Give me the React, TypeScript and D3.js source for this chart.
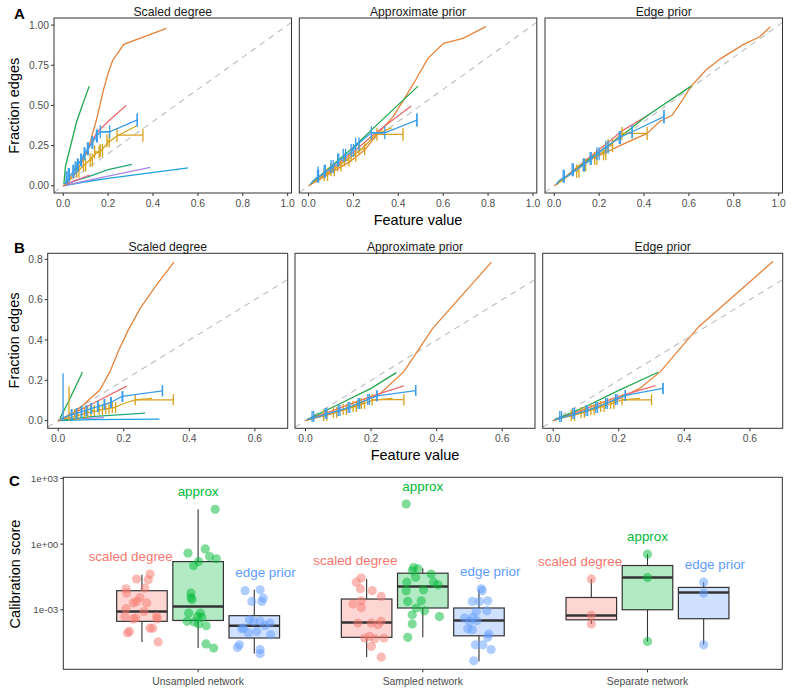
import React from "react";
import * as d3 from "d3";

const FONT = "'Liberation Sans', Arial, Helvetica, sans-serif";

// ---------- colours ----------
const NET_COLORS: Record<string, string> = {
  orange: "#E5833A",
  red: "#EE6A6F",
  pink: "#EC609A",
  green: "#22A84C",
  teal: "#22AA72",
  purple: "#A985E6",
  cyan: "#1BA3DC",
  blue: "#3C9DEB",
  gold: "#D8A21C",
};

// ---------- panel A / B data (x = feature value, y = fraction edges) ----------
// pts: line vertices [x, y]; errs: horizontal error bars [y, xmin, xmax]; spikes: [x, ymin, ymax]
type Series = { net: string; pts: number[][]; errs?: number[][]; spikes?: number[][] };

const facetTitles = ["Scaled degree", "Approximate prior", "Edge prior"];

const A_scaled: Series[] = [
  { net: "cyan", pts: [[0, 0], [0.1, 0.025], [0.2, 0.046], [0.556, 0.112]] },
  { net: "purple", pts: [[0, 0], [0.1, 0.03], [0.2, 0.06], [0.388, 0.114]] },
  { net: "teal", pts: [[0, 0], [0.05, 0.03], [0.11, 0.055], [0.2, 0.1], [0.307, 0.133]] },
  { net: "pink", pts: [[0, 0], [0.05, 0.03], [0.119, 0.067]] },
  { net: "red", pts: [[0.01, 0.01], [0.05, 0.1], [0.1, 0.2], [0.15, 0.33], [0.2, 0.4], [0.28, 0.5]] },
  { net: "green", pts: [[0.003, 0.01], [0.01, 0.12], [0.035, 0.26], [0.06, 0.4], [0.085, 0.5], [0.116, 0.62]] },
  { net: "orange", pts: [[0, 0], [0.02, 0.02], [0.05, 0.07], [0.08, 0.14], [0.11, 0.22], [0.15, 0.42], [0.18, 0.6], [0.2, 0.7], [0.22, 0.78], [0.27, 0.88], [0.46, 0.98]] },
  {
    net: "gold",
    pts: [[0.005, 0.005], [0.02, 0.03], [0.035, 0.05], [0.05, 0.07], [0.065, 0.09], [0.08, 0.11], [0.095, 0.13], [0.11, 0.15], [0.125, 0.17], [0.145, 0.2], [0.17, 0.22], [0.2, 0.27], [0.24, 0.31], [0.33, 0.375]],
    errs: [[0.09, 0.06, 0.07], [0.13, 0.09, 0.1], [0.16, 0.12, 0.13], [0.21, 0.14, 0.16], [0.22, 0.165, 0.175], [0.28, 0.195, 0.205], [0.315, 0.24, 0.355]],
  },
  {
    net: "blue",
    pts: [[0.005, 0.01], [0.015, 0.03], [0.025, 0.05], [0.035, 0.07], [0.045, 0.09], [0.055, 0.11], [0.065, 0.13], [0.08, 0.16], [0.095, 0.2], [0.11, 0.23], [0.13, 0.27], [0.15, 0.31], [0.165, 0.336], [0.207, 0.336], [0.33, 0.41]],
    errs: [[0.05, 0.013, 0.017], [0.07, 0.023, 0.027], [0.09, 0.043, 0.047], [0.11, 0.053, 0.057], [0.13, 0.063, 0.067], [0.16, 0.078, 0.082], [0.2, 0.093, 0.097], [0.23, 0.108, 0.112], [0.27, 0.128, 0.132], [0.31, 0.148, 0.152], [0.336, 0.165, 0.207], [0.41, 0.33, 0.33]],
    spikes: [[0.025, 0.02, 0.11]],
  },
];

const A_approx: Series[] = [
  { net: "orange", pts: [[0, 0], [0.05, 0.04], [0.095, 0.077], [0.184, 0.15], [0.25, 0.222], [0.31, 0.326], [0.377, 0.43], [0.428, 0.544], [0.477, 0.658], [0.532, 0.793], [0.602, 0.886], [0.688, 0.917], [0.79, 0.99]] },
  { net: "red", pts: [[0.01, 0.01], [0.1, 0.1], [0.2, 0.21], [0.3, 0.33], [0.458, 0.496]] },
  { net: "green", pts: [[0.01, 0.012], [0.1, 0.12], [0.2, 0.24], [0.288, 0.357], [0.488, 0.62]] },
  {
    net: "gold",
    pts: [[0.01, 0.01], [0.03, 0.03], [0.05, 0.05], [0.08, 0.07], [0.11, 0.1], [0.14, 0.13], [0.17, 0.16], [0.2, 0.19], [0.24, 0.23], [0.3, 0.32], [0.37, 0.36]],
    errs: [[0.07, 0.07, 0.085], [0.1, 0.1, 0.115], [0.13, 0.13, 0.145], [0.16, 0.16, 0.18], [0.19, 0.19, 0.21], [0.23, 0.225, 0.25], [0.32, 0.305, 0.421]],
  },
  {
    net: "blue",
    pts: [[0.01, 0.01], [0.02, 0.03], [0.035, 0.05], [0.05, 0.06], [0.07, 0.08], [0.09, 0.1], [0.11, 0.12], [0.13, 0.15], [0.16, 0.18], [0.19, 0.21], [0.22, 0.26], [0.28, 0.33], [0.34, 0.33], [0.483, 0.409]],
    errs: [[0.06, 0.04, 0.045], [0.09, 0.07, 0.075], [0.12, 0.1, 0.11], [0.16, 0.13, 0.135], [0.19, 0.155, 0.165], [0.22, 0.19, 0.2], [0.26, 0.21, 0.225], [0.33, 0.28, 0.34], [0.409, 0.483, 0.483]],
    spikes: [[0.043, 0.05, 0.12]],
  },
];

const A_edge: Series[] = [
  { net: "orange", pts: [[0, 0], [0.05, 0.05], [0.152, 0.156], [0.3, 0.255], [0.414, 0.326], [0.47, 0.4], [0.526, 0.44], [0.571, 0.533], [0.608, 0.616], [0.676, 0.72], [0.743, 0.793], [0.84, 0.877], [0.915, 0.927], [0.963, 0.99]] },
  { net: "red", pts: [[0.01, 0.01], [0.15, 0.17], [0.25, 0.28], [0.3, 0.34], [0.42, 0.44]] },
  { net: "green", pts: [[0.01, 0.01], [0.15, 0.16], [0.3, 0.31], [0.407, 0.43], [0.61, 0.62]] },
  {
    net: "gold",
    pts: [[0.01, 0.01], [0.03, 0.03], [0.06, 0.06], [0.09, 0.09], [0.12, 0.12], [0.15, 0.15], [0.18, 0.18], [0.22, 0.21], [0.26, 0.27], [0.3, 0.326]],
    errs: [[0.09, 0.1, 0.11], [0.13, 0.13, 0.14], [0.17, 0.18, 0.19], [0.2, 0.22, 0.23], [0.25, 0.24, 0.26], [0.326, 0.302, 0.414]],
  },
  {
    net: "blue",
    pts: [[0.01, 0.01], [0.02, 0.03], [0.04, 0.05], [0.06, 0.06], [0.08, 0.08], [0.1, 0.1], [0.13, 0.13], [0.16, 0.16], [0.19, 0.2], [0.23, 0.24], [0.29, 0.3], [0.347, 0.336], [0.489, 0.43]],
    errs: [[0.06, 0.04, 0.045], [0.1, 0.08, 0.085], [0.13, 0.13, 0.135], [0.17, 0.16, 0.165], [0.2, 0.19, 0.2], [0.24, 0.23, 0.24], [0.3, 0.29, 0.295], [0.336, 0.347, 0.347], [0.43, 0.489, 0.489]],
  },
];

const B_scaled: Series[] = [
  { net: "purple", pts: [[0, 0], [0.08, 0.01], [0.14, 0.015]] },
  { net: "cyan", pts: [[0, 0], [0.1, 0.005], [0.309, 0.008]] },
  { net: "teal", pts: [[0, 0], [0.1, 0.02], [0.265, 0.037]] },
  { net: "red", pts: [[0, 0], [0.1, 0.08], [0.209, 0.171]] },
  { net: "green", pts: [[0.005, 0.01], [0.03, 0.09], [0.074, 0.24]] },
  { net: "orange", pts: [[0, 0], [0.04, 0.03], [0.076, 0.078], [0.127, 0.152], [0.158, 0.243], [0.185, 0.35], [0.214, 0.45], [0.25, 0.557], [0.3, 0.673], [0.353, 0.786]] },
  {
    net: "gold",
    pts: [[0.005, 0.005], [0.02, 0.01], [0.035, 0.015], [0.05, 0.02], [0.07, 0.03], [0.09, 0.04], [0.11, 0.045], [0.13, 0.055], [0.15, 0.06], [0.17, 0.065], [0.2, 0.085], [0.235, 0.103], [0.286, 0.11]],
    errs: [[0.03, 0.05, 0.06], [0.04, 0.08, 0.09], [0.05, 0.1, 0.11], [0.055, 0.125, 0.135], [0.06, 0.145, 0.155], [0.065, 0.165, 0.175], [0.103, 0.235, 0.351]],
    spikes: [[0.033, 0.0, 0.17]],
  },
  {
    net: "blue",
    pts: [[0.005, 0.005], [0.015, 0.015], [0.025, 0.02], [0.04, 0.03], [0.055, 0.035], [0.07, 0.045], [0.085, 0.05], [0.1, 0.06], [0.12, 0.07], [0.14, 0.08], [0.16, 0.09], [0.195, 0.12], [0.318, 0.148]],
    errs: [[0.03, 0.04, 0.042], [0.035, 0.055, 0.057], [0.045, 0.07, 0.072], [0.05, 0.085, 0.087], [0.06, 0.1, 0.102], [0.07, 0.12, 0.122], [0.08, 0.14, 0.142], [0.09, 0.16, 0.162], [0.12, 0.195, 0.197], [0.148, 0.318, 0.318]],
    spikes: [[0.015, 0.0, 0.235]],
  },
];

const B_approx: Series[] = [
  { net: "orange", pts: [[0, 0], [0.08, 0.035], [0.157, 0.078], [0.229, 0.136], [0.3, 0.243], [0.388, 0.458], [0.567, 0.786]] },
  { net: "red", pts: [[0.005, 0.005], [0.1, 0.06], [0.2, 0.12], [0.3, 0.172]] },
  { net: "green", pts: [[0.005, 0.005], [0.1, 0.08], [0.2, 0.16], [0.277, 0.238]] },
  {
    net: "gold",
    pts: [[0.005, 0.003], [0.03, 0.015], [0.06, 0.025], [0.09, 0.04], [0.12, 0.055], [0.15, 0.07], [0.18, 0.085], [0.203, 0.1], [0.265, 0.11]],
    errs: [[0.025, 0.055, 0.065], [0.04, 0.085, 0.095], [0.055, 0.115, 0.125], [0.07, 0.145, 0.155], [0.085, 0.17, 0.18], [0.104, 0.203, 0.3]],
  },
  {
    net: "blue",
    pts: [[0.005, 0.005], [0.02, 0.012], [0.04, 0.02], [0.06, 0.03], [0.08, 0.04], [0.1, 0.05], [0.13, 0.065], [0.16, 0.085], [0.19, 0.105], [0.218, 0.123], [0.336, 0.149]],
    errs: [[0.02, 0.02, 0.025], [0.035, 0.06, 0.065], [0.05, 0.1, 0.105], [0.065, 0.13, 0.135], [0.085, 0.16, 0.165], [0.105, 0.19, 0.195], [0.123, 0.218, 0.218], [0.149, 0.336, 0.336]],
  },
];

const B_edge: Series[] = [
  { net: "orange", pts: [[0, 0], [0.1, 0.05], [0.194, 0.103], [0.264, 0.16], [0.327, 0.243], [0.444, 0.466], [0.67, 0.789]] },
  { net: "red", pts: [[0.005, 0.005], [0.1, 0.06], [0.2, 0.12], [0.312, 0.174]] },
  { net: "green", pts: [[0.005, 0.005], [0.1, 0.07], [0.2, 0.15], [0.32, 0.24]] },
  {
    net: "gold",
    pts: [[0.005, 0.003], [0.03, 0.015], [0.06, 0.025], [0.09, 0.04], [0.12, 0.055], [0.15, 0.07], [0.18, 0.085], [0.21, 0.103], [0.265, 0.11]],
    errs: [[0.025, 0.055, 0.065], [0.04, 0.085, 0.095], [0.055, 0.115, 0.125], [0.07, 0.145, 0.155], [0.085, 0.175, 0.185], [0.103, 0.21, 0.3]],
  },
  {
    net: "blue",
    pts: [[0.005, 0.005], [0.02, 0.012], [0.04, 0.02], [0.06, 0.03], [0.08, 0.04], [0.1, 0.05], [0.13, 0.065], [0.16, 0.085], [0.19, 0.105], [0.22, 0.125], [0.335, 0.16]],
    errs: [[0.02, 0.02, 0.025], [0.035, 0.06, 0.065], [0.05, 0.1, 0.105], [0.065, 0.13, 0.135], [0.085, 0.16, 0.165], [0.105, 0.19, 0.195], [0.125, 0.22, 0.22], [0.16, 0.335, 0.335]],
  },
];

const A_xTicks = [0, 0.2, 0.4, 0.6, 0.8, 1.0];
const A_yTicks = [0, 0.25, 0.5, 0.75, 1.0];
const B_xTicks = [0, 0.2, 0.4, 0.6];
const B_yTicks = [0, 0.2, 0.4, 0.6, 0.8];

// ---------- panel C data (log10 calibration score) ----------
const networks = ["Unsampled network", "Sampled network", "Separate network"];
const methods = ["scaled degree", "approx", "edge prior"];
const methodColors = ["#F8766D", "#00BA38", "#619CFF"];
const labelNudge = [-0.05, 0, 0.05];
const cTickExps = [3, 0, -3];
const cTickLabels = ["1e+03", "1e+00", "1e-03"];

// box stats per network: [lower whisker, q1, median, q3, upper whisker] (log10)
const scaledBox = [[-4.47, -3.53, -3.08, -2.13, -1.40], [-5.16, -4.26, -3.58, -2.51, -1.59], [-3.65, -3.46, -3.26, -2.44, -1.59]];
const approxBox = [[-4.75, -3.49, -2.85, -0.80, 1.59], [-4.26, -2.92, -1.94, -1.33, -1.10], [-4.45, -3.0, -1.53, -0.98, -0.46]];
const edgeBox = [[-5.0, -4.29, -3.73, -3.27, -2.09], [-5.36, -4.19, -3.49, -2.92, -2.09], [-4.6, -3.41, -2.21, -1.98, -1.74]];

// jittered points per network: [jitter (category units), log10 score]
const scaledPts = [
  [[0.036, -1.37], [-0.024, -1.6], [0.028, -1.63], [-0.071, -2.04], [0.013, -2.01], [-0.068, -2.24], [-0.009, -2.44], [-0.024, -2.62], [-0.039, -2.69], [0.021, -2.69], [-0.071, -2.95], [0.009, -3.08], [-0.076, -3.31], [-0.027, -3.38], [-0.039, -3.42], [0.065, -3.31], [0.068, -3.42], [0.048, -3.84], [0.036, -3.84], [-0.056, -3.99], [-0.064, -4.06], [0.072, -4.47]],
  [[-0.024, -1.55], [-0.046, -1.74], [-0.028, -2.04], [0.025, -2.13], [0.065, -2.39], [-0.024, -2.59], [-0.061, -2.74], [-0.024, -2.9], [-0.039, -3.61], [0.021, -3.61], [0.065, -3.53], [0.05, -3.68], [0.013, -4.22], [0.036, -4.32], [0.077, -4.29], [0.021, -4.67], [0.065, -5.16], [-0.009, -4.29]],
  [[0, -1.59], [0, -3.26], [0, -3.65]],
];
const approxPts = [
  [[0.076, 1.59], [0.032, -0.22], [-0.045, -0.41], [0.051, -0.57], [0.081, -0.67], [0.002, -0.8], [-0.02, -0.98], [-0.032, -2.24], [-0.032, -2.44], [-0.027, -2.54], [-0.042, -3.15], [0.01, -3.15], [-0.002, -3.31], [0.017, -3.35], [-0.017, -3.56], [0.002, -3.65], [0.036, -3.73], [0.035, -4.56], [0.069, -4.75], [-0.049, -3.53]],
  [[-0.074, 1.83], [-0.041, -1.07], [-0.022, -1.13], [-0.047, -1.22], [0.037, -1.37], [-0.071, -1.74], [0.048, -1.74], [0.003, -2.09], [-0.074, -2.13], [0.067, -1.86], [-0.067, -2.62], [-0.007, -2.59], [-0.029, -2.92], [0.008, -3.05], [-0.047, -3.23], [0.074, -3.31], [-0.047, -3.65], [-0.067, -4.26], [-0.032, -1.52]],
  [[0, -0.46], [0, -1.53], [0, -4.45]],
];
const edgePts = [
  [[-0.041, -2.13], [0.026, -2.09], [-0.011, -2.62], [0.04, -2.47], [0.033, -2.62], [-0.022, -3.46], [-0.004, -3.53], [0.026, -3.53], [0.07, -3.61], [0.048, -3.72], [-0.048, -3.84], [0.011, -3.99], [0.073, -4.14], [-0.056, -3.87], [-0.066, -4.6], [-0.075, -4.72], [0.026, -4.82], [0.026, -5.0], [-0.026, -4.06]],
  [[0.01, -2.04], [0.014, -2.13], [-0.03, -2.62], [0.002, -2.62], [0.039, -2.59], [-0.012, -3.08], [0.035, -3.05], [-0.064, -3.38], [-0.028, -3.35], [-0.042, -3.53], [-0.01, -3.5], [-0.05, -3.87], [-0.03, -3.91], [0.044, -4.11], [0.039, -4.26], [-0.016, -4.6], [0.017, -4.6], [0.054, -4.82], [-0.023, -5.33]],
  [[0, -1.74], [0, -2.24], [0, -4.6]],
];

// ---------- components ----------
type RowCfg = {
  top: number; h: number; lefts: number[]; w: number;
  xDom: number[]; yDom: number[]; xTicks: number[]; yTicks: number[]; yFmt: string; cap: number;
};

function LinePanel({ cfg, idx, series, id }: { cfg: RowCfg; idx: number; series: Series[]; id: string }) {
  const x0 = cfg.lefts[idx];
  const xs = d3.scaleLinear().domain(cfg.xDom).range([x0, x0 + cfg.w]);
  const ys = d3.scaleLinear().domain(cfg.yDom).range([cfg.top + cfg.h, cfg.top]);
  const line = d3.line<number[]>().x((d) => xs(d[0])).y((d) => ys(d[1]));
  const lo = Math.max(cfg.xDom[0], cfg.yDom[0]);
  const hi = Math.min(cfg.xDom[1], cfg.yDom[1]);
  const fmtX = d3.format(".1f");
  const fmtY = d3.format(cfg.yFmt);
  const bottom = cfg.top + cfg.h;
  return (
    <g>
      <clipPath id={id}>
        <rect x={x0} y={cfg.top} width={cfg.w} height={cfg.h} />
      </clipPath>
      <g clipPath={`url(#${id})`}>
        <line x1={xs(lo)} y1={ys(lo)} x2={xs(hi)} y2={ys(hi)} stroke="#BDBDBD" strokeWidth={1.1} strokeDasharray="6,5" />
        {series.map((s, i) => {
          const c = NET_COLORS[s.net];
          return (
            <g key={i}>
              <path d={line(s.pts) || ""} fill="none" stroke={c} strokeWidth={1.3} />
              {(s.errs || []).map((e, j) => {
                const y = ys(e[0]);
                const a = xs(e[1]);
                const b = xs(e[2]);
                const hh = cfg.cap / 2;
                return (
                  <g key={j} stroke={c} strokeWidth={1.3}>
                    <line x1={a} y1={y} x2={b} y2={y} />
                    <line x1={a} y1={y - hh} x2={a} y2={y + hh} />
                    <line x1={b} y1={y - hh} x2={b} y2={y + hh} />
                  </g>
                );
              })}
              {(s.spikes || []).map((sp, j) => (
                <line key={"s" + j} x1={xs(sp[0])} x2={xs(sp[0])} y1={ys(sp[1])} y2={ys(sp[2])} stroke={c} strokeWidth={1.3} />
              ))}
            </g>
          );
        })}
      </g>
      <rect x={x0} y={cfg.top} width={cfg.w} height={cfg.h} fill="none" stroke="#333" strokeWidth={1} />
      <text x={x0 + cfg.w / 2} y={cfg.top - 2.3} textAnchor="middle" fontSize={12.2} fill="#1A1A1A">
        {facetTitles[idx]}
      </text>
      {cfg.xTicks.map((t) => (
        <g key={t}>
          <line x1={xs(t)} x2={xs(t)} y1={bottom} y2={bottom + 3} stroke="#333" strokeWidth={1} />
          <text x={xs(t)} y={bottom + 13.5} textAnchor="middle" fontSize={10.3} fill="#4D4D4D">
            {fmtX(t)}
          </text>
        </g>
      ))}
      {idx === 0 &&
        cfg.yTicks.map((t) => (
          <g key={"y" + t}>
            <line x1={x0 - 3} x2={x0} y1={ys(t)} y2={ys(t)} stroke="#333" strokeWidth={1} />
            <text x={x0 - 5} y={ys(t)} dy="0.35em" textAnchor="end" fontSize={10.3} fill="#4D4D4D">
              {fmtY(t)}
            </text>
          </g>
        ))}
    </g>
  );
}

function PanelC() {
  const left = 63.3, right = 782.3, top = 477.3, bottom = 669.3;
  const xs = d3.scaleLinear().domain([0.4, 3.6]).range([left, right]);
  const ys = d3.scaleLinear().domain([-5.72, 3.05]).range([bottom, top]);
  const boxes = [scaledBox, approxBox, edgeBox];
  const pts = [scaledPts, approxPts, edgePts];
  const dodge = 0.25;
  const halfW = 0.1125;
  const unit = xs(1) - xs(0);
  return (
    <g>
      <rect x={left} y={top} width={right - left} height={bottom - top} fill="none" stroke="#333" strokeWidth={1} />
      {networks.map((net, i) => (
        <g key={net}>
          {methods.map((m, j) => {
            const cx = xs(i + 1 + (j - 1) * dodge);
            const b = boxes[j][i];
            const col = methodColors[j];
            const maxV = d3.max(pts[j][i], (p) => p[1]) as number;
            return (
              <g key={m}>
                <line x1={cx} x2={cx} y1={ys(b[4])} y2={ys(b[3])} stroke="#333" strokeWidth={1.1} />
                <line x1={cx} x2={cx} y1={ys(b[1])} y2={ys(b[0])} stroke="#333" strokeWidth={1.1} />
                <rect x={cx - halfW * unit} width={2 * halfW * unit} y={ys(b[3])} height={ys(b[1]) - ys(b[3])} fill={col} fillOpacity={0.3} stroke="#333" strokeWidth={1.2} />
                <line x1={cx - halfW * unit} x2={cx + halfW * unit} y1={ys(b[2])} y2={ys(b[2])} stroke="#333" strokeWidth={2.6} />
                {pts[j][i].map((p, k) => (
                  <circle key={k} cx={cx + p[0] * unit} cy={ys(p[1])} r={4.6} fill={col} fillOpacity={0.5} />
                ))}
                <text x={cx + labelNudge[j] * unit} y={ys(maxV) - 13} textAnchor="middle" fontSize={13.4} fill={col}>
                  {m}
                </text>
              </g>
            );
          })}
          <line x1={xs(i + 1)} x2={xs(i + 1)} y1={bottom} y2={bottom + 3} stroke="#333" strokeWidth={1} />
          <text x={xs(i + 1)} y={bottom + 16} textAnchor="middle" fontSize={10.4} fill="#4D4D4D">
            {net}
          </text>
        </g>
      ))}
      {cTickExps.map((e, k) => (
        <g key={e}>
          <line x1={left - 3} x2={left} y1={ys(e)} y2={ys(e)} stroke="#333" strokeWidth={1} />
          <text x={left - 5} y={ys(e)} dy="0.35em" textAnchor="end" fontSize={9.8} fill="#4D4D4D">
            {cTickLabels[k]}
          </text>
        </g>
      ))}
    </g>
  );
}

const rowA: RowCfg = {
  top: 18, h: 175, lefts: [54, 299.3, 545], w: 237.5,
  xDom: [-0.041, 1.017], yDom: [-0.045, 1.044], xTicks: A_xTicks, yTicks: A_yTicks, yFmt: ".2f", cap: 13,
};
const rowB: RowCfg = {
  top: 253.3, h: 175, lefts: [47.7, 295, 542.7], w: 240,
  xDom: [-0.032, 0.7], yDom: [-0.038, 0.83], xTicks: B_xTicks, yTicks: B_yTicks, yFmt: ".1f", cap: 11,
};

export default function App() {
  const aSeries = [A_scaled, A_approx, A_edge];
  const bSeries = [B_scaled, B_approx, B_edge];
  return (
    <svg
      width={792}
      height={693}
      style={{ position: "absolute", left: 0, top: 0, background: "#fff", fontFamily: FONT }}
      fontFamily={FONT}
    >
      <rect x={0} y={0} width={792} height={693} fill="#fff" />
      {aSeries.map((s, i) => (
        <LinePanel key={"a" + i} cfg={rowA} idx={i} series={s} id={"clipA" + i} />
      ))}
      {bSeries.map((s, i) => (
        <LinePanel key={"b" + i} cfg={rowB} idx={i} series={s} id={"clipB" + i} />
      ))}
      <PanelC />
      {/* axis titles */}
      <text x={418} y={224.5} textAnchor="middle" fontSize={14.5} fill="#000">Feature value</text>
      <text x={415} y={460} textAnchor="middle" fontSize={14.5} fill="#000">Feature value</text>
      <text transform="translate(19,105.7) rotate(-90)" textAnchor="middle" fontSize={14.5} fill="#000">Fraction edges</text>
      <text transform="translate(19,340.5) rotate(-90)" textAnchor="middle" fontSize={14.5} fill="#000">Fraction edges</text>
      <text transform="translate(20,574) rotate(-90)" textAnchor="middle" fontSize={14.5} fill="#000">Calibration score</text>
      {/* panel tags */}
      <text x={14} y={18.5} fontSize={15} fontWeight="bold">A</text>
      <text x={14} y={253} fontSize={15} fontWeight="bold">B</text>
      <text x={9} y={485.5} fontSize={15} fontWeight="bold">C</text>
    </svg>
  );
}
